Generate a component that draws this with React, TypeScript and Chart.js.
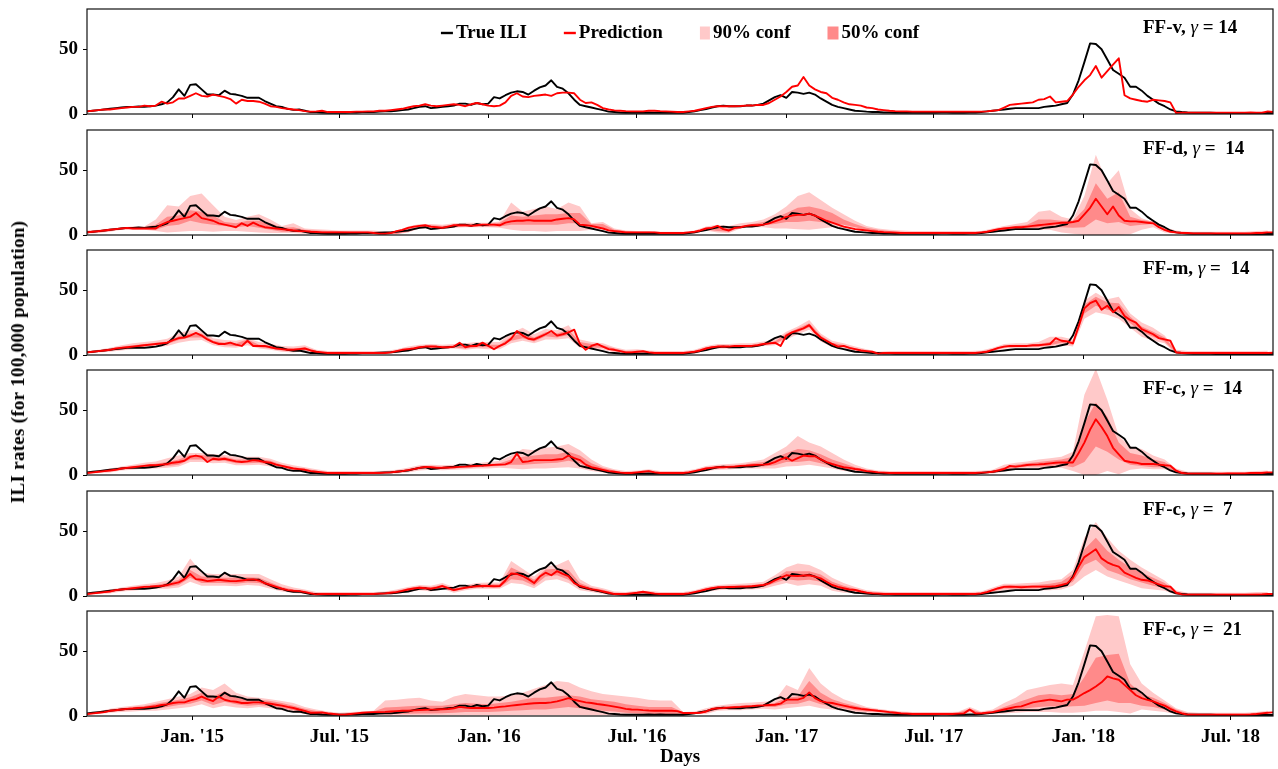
import React, { useEffect, useRef } from "react";
import { Chart, registerables } from "chart.js";

Chart.register(...registerables);

const FONT = "'Liberation Serif', 'Times New Roman', serif";
const FONT_SIZE = 19;

// x axis in days relative to 2015-01-01
const X_MIN = -129.4;
const X_MAX = 1329.3;
const FIRST_SAMPLE_DAY = -129.4;
const SAMPLE_STEP_DAYS = 7.05;
const BAND_STRIDE = 2; // bands sampled every 2 weeks

const TICK_DAYS = [0, 181, 365, 547, 731, 912, 1096, 1277];
const TICK_LABELS = ["Jan. '15", "Jul. '15", "Jan. '16", "Jul. '16", "Jan. '17", "Jul. '17", "Jan. '18", "Jul. '18"];
const Y_MAX = 81;
const Y_TICKS = [0, 50];

const LEGEND_LABELS = ["True ILI", "Prediction", "90% conf", "50% conf"];
const PANEL_NAMES = ["FF-v, ", "FF-d, ", "FF-m, ", "FF-c, ", "FF-c, ", "FF-c, "];
const PANEL_GAMMAS = [" = 14", " =  14", " =  14", " =  14", " =  7", " =  21"];

const TRUE_ILI = [
  2.0, 2.5, 3.0, 3.5, 4.0, 4.5, 5.0, 5.5, 5.5, 5.8,
  5.5, 6.0, 6.5, 7.5, 9.0, 13, 19, 14, 22.5, 23,
  19, 15, 15, 14.5, 18, 15.5, 15, 14, 12.5, 12.5,
  12.5, 10, 8, 6, 5.5, 4, 3.2, 3.5, 2.5, 1.5,
  1.5, 1.2, 1.0, 1.0, 1.0, 1.0, 1.2, 1.2, 1.5, 1.5,
  1.5, 1.8, 2.0, 2.0, 2.5, 3.0, 3.5, 4.5, 5.5, 6.0,
  4.5, 5.0, 5.5, 6.0, 6.5, 8.0, 8.0, 7.0, 8.5, 7.5,
  8.0, 13, 12, 14.5, 16.5, 17.5, 17, 15, 18, 20.5,
  22, 26, 21, 19.5, 16, 11, 7, 6, 5, 4,
  3, 1.8, 1.5, 1.2, 1.0, 1.0, 1.0, 1.0, 1.2, 1.0,
  1.2, 1.0, 1.0, 1.0, 1.0, 1.5, 2.0, 3.0, 3.8, 5.0,
  6.0, 6.5, 6.0, 6.0, 6.0, 6.5, 6.5, 7.0, 8.0, 10.5,
  13, 14.5, 12.5, 17, 16.5, 15.5, 16.5, 15, 12, 9.5,
  7.0, 5.5, 4.5, 3.5, 2.5, 2.2, 1.8, 1.5, 1.5, 1.2,
  1.2, 1.0, 1.0, 1.0, 1.0, 1.0, 1.0, 1.0, 1.0, 1.2,
  1.2, 1.0, 1.0, 1.0, 1.2, 1.2, 1.5, 2.0, 2.5, 3.0,
  3.5, 4.0, 4.5, 4.5, 4.5, 4.5, 4.5, 5.5, 6.0, 6.5,
  7.5, 8.5, 15, 26, 40, 54.5, 54, 50, 42, 34,
  31, 28, 21, 21, 18, 14, 11, 8, 6, 3.5,
  2, 1.5, 1.2, 1.0, 1.0, 1.0, 1.0, 0.8, 0.8, 0.8,
  0.8, 0.8, 0.8, 0.8, 0.8, 0.8, 0.8, 0.8,
];

const PRED_FFV = [
  2, 2.5, 3, 3.5, 3.5, 4, 4.5, 5, 5.5, 5.5,
  6.5, 6, 6.5, 9.5, 8, 9, 12, 12, 14, 16,
  14, 13.5, 15, 14, 13, 11.5, 8, 11, 10, 10,
  9.5, 8, 6, 5.5, 4.5, 4, 3.5, 3, 2.2, 1.8,
  2, 2.5, 1.5, 1.5, 1.5, 1.5, 1.5, 1.8, 1.8, 2,
  2, 2.5, 2.5, 3, 3.5, 4, 5, 6, 6.5, 7.5,
  6.5, 6, 6.5, 7, 7.5, 7, 6, 7.5, 8.5, 7.5,
  6.5, 6, 6.5, 9, 14, 16, 13.5, 13, 14, 14.5,
  15, 14, 16, 16.5, 16.5, 16, 11, 8.5, 9, 7,
  4.5, 3.5, 2.8, 2.5, 2.2, 2, 2, 2, 2.5, 2.5,
  2.2, 2, 1.8, 1.5, 1.5, 2, 2.5, 3.5, 4.5, 5.5,
  6, 6, 6, 6, 6.2, 6.5, 6.5, 7, 7, 8.5,
  11, 13.5, 17, 21, 22, 28.5, 22, 19, 17, 16,
  12.5, 11, 9, 7.5, 7, 6.5, 5, 4.5, 3.5, 3,
  2.5, 2.2, 2, 2, 1.8, 1.8, 1.8, 1.8, 1.8, 1.8,
  1.8, 1.8, 1.8, 1.8, 1.8, 1.8, 1.8, 2, 2.5, 3,
  5, 7, 7.5, 8, 8.5, 9, 11, 11.5, 13.5, 9,
  9.5, 10, 15, 21, 26, 30, 37, 28, 33, 38,
  43, 14.5, 12, 11, 10, 9.5, 11, 10.5, 10, 9,
  0.8, 1, 1, 1, 1, 1, 1, 1, 1, 1,
  1, 1, 1, 1.2, 1, 1, 2, 1.5,
];

const PRED_FFD = [
  2, 2.5, 3, 3.5, 4, 4.5, 5, 5.5, 5, 5,
  5, 5, 5, 8, 10, 11, 12, 13, 14, 17,
  13, 12, 11, 9, 8, 7, 6, 9, 7, 9.5,
  7.5, 6, 5.5, 5, 4.5, 4, 3.5, 3, 3, 2.5,
  2.3, 2, 2, 2, 2, 2, 2, 2, 2, 2,
  1.5, 1, 1, 1.5, 3, 4, 5.5, 6.5, 7, 7.5,
  6.5, 6, 5.5, 6.5, 7.5, 7.5, 7.5, 7, 7.5, 8,
  8, 8, 7.5, 9.5, 10.5, 11, 11, 11.5, 11, 11,
  11, 11, 12, 12.5, 13, 12, 8, 7.5, 7, 6,
  5, 3.5, 3, 2.5, 2, 2, 2, 2, 2, 2,
  1.5, 1.5, 1.5, 1.5, 1.5, 2, 2.5, 3.5, 5, 5.5,
  7, 4.5, 3.5, 5.5, 6, 7, 7.5, 7.5, 8, 9,
  10.5, 12, 14, 15, 15.5, 15.5, 16.5, 15, 13, 11,
  9.5, 8, 6.5, 5.5, 4.5, 4, 3.5, 3, 2.5, 2.2,
  2, 1.8, 1.5, 1.5, 1.5, 1.5, 1.5, 1.5, 1.5, 1.5,
  1.5, 1.5, 1.5, 1.5, 1.5, 1.5, 2, 2.5, 3.5, 4.5,
  5, 5.5, 6, 6, 6.5, 7, 7.5, 8, 8.5, 9,
  9.5, 9.5, 10, 11, 16, 21, 28, 22, 16, 22,
  15, 11, 10.5, 10.5, 10, 9.5, 9, 6, 4, 2.5,
  2, 1.5, 1.5, 1.2, 1.2, 1.2, 1.2, 1.2, 1.2, 1.2,
  1.2, 1.2, 1.2, 1.2, 1.5, 1.5, 2, 2,
];
const FFD_HI90 = [
  3.5, 4, 5, 6, 6.5, 6.5, 12, 23, 22, 30,
  32, 23, 14, 11.5, 14, 16, 12, 7, 9, 5,
  4.5, 4, 3.5, 3.5, 3.5, 3.5, 2.5, 3, 6.5, 8.5,
  8.5, 8, 9, 9.5, 9.5, 9.5, 10.5, 25, 18, 20,
  22, 20, 25, 22, 9, 10, 5, 3.5, 3, 3,
  2.5, 2.5, 2.5, 3.5, 6.5, 8, 7, 9, 10, 12,
  16, 22, 30, 33, 27, 21, 16, 11, 7, 5,
  4, 3.5, 3, 3, 3, 3, 3, 3, 3, 5,
  7, 8.5, 10, 18, 19, 14, 12, 30, 62, 40,
  50, 20, 13, 10, 6, 3.5, 2.5, 2.5, 2.5, 2.5,
  2.5, 2.5, 3, 3.5,
];
const FFD_HI50 = [
  3, 3.5, 4.5, 5.5, 6, 6, 8, 14, 15, 19,
  18, 15, 10, 9, 11, 11, 9, 5.5, 6, 4,
  3.5, 3, 3, 2.5, 2.5, 2.5, 2, 2, 5, 7.5,
  7.5, 7, 8, 8.5, 8.5, 8.5, 9.5, 15, 14, 15,
  16, 16, 17, 17, 8.5, 8.5, 4, 3, 2.5, 2.5,
  2, 2, 2, 2.5, 5.5, 7, 5, 7, 8.5, 10,
  13, 17, 21, 22, 20, 17, 12, 8.5, 5.5, 4,
  3, 2.5, 2, 2, 2, 2, 2, 2, 2, 4,
  6, 7, 8, 12, 12, 11, 11, 20, 40, 28,
  33, 14, 11.5, 10.5, 5, 2.5, 1.8, 1.8, 1.8, 1.8,
  1.8, 1.8, 2.2, 2.5,
];
const FFD_LO50 = [
  1.5, 2, 3, 4.5, 4.5, 4.5, 4, 7, 8, 11,
  9, 8, 7, 6, 7, 5.5, 4, 2.5, 2.5, 1.8,
  1.5, 1.5, 1.5, 1.5, 1.5, 1.5, 0.8, 0.8, 2.5, 5.5,
  5.5, 5, 6, 6.5, 6.5, 6.5, 6.5, 8, 8, 8,
  8, 8, 9, 9, 6, 5.5, 2.5, 2, 1.5, 1.5,
  1, 1, 1, 1.5, 4, 3, 2.5, 6, 7, 7.5,
  8.5, 10, 10, 11, 10, 9, 8, 6, 4, 2.5,
  1.5, 1, 1, 1, 1, 1, 1, 1, 1, 2.5,
  4, 4.5, 5, 5.5, 6, 6, 5.5, 6, 12, 9,
  10, 7, 8, 8.5, 3, 1.5, 0.8, 0.8, 0.8, 0.8,
  0.8, 0.8, 1, 1.5,
];
const FFD_LO90 = [
  1, 1.5, 2.5, 4, 4, 4, 3, 2, 2.5, 3,
  3, 2.5, 3, 3, 2.5, 2, 1.5, 1.5, 1.5, 1,
  1, 1, 1, 1, 1, 1, 0.5, 0.5, 2, 5,
  5, 4.5, 5.5, 6, 6, 6, 5.5, 4, 3, 3,
  2.5, 3, 3, 3, 4, 4.5, 2, 1.5, 1, 1,
  0.5, 0.5, 0.5, 1, 3.5, 2, 1.5, 5, 6, 6,
  5, 5, 4.5, 4, 5, 6, 5.5, 4.5, 3, 2,
  1, 0.8, 0.8, 0.8, 0.8, 0.8, 0.8, 0.8, 0.8, 2,
  3.5, 4, 4.5, 4, 4, 2, 1, 0, 0, 0,
  0, 0.5, 4, 6, 2, 1, 0.5, 0.5, 0.5, 0.5,
  0.5, 0.5, 0.8, 1,
];

const PRED_FFM = [
  2, 2.5, 3, 3.5, 4, 5, 5.5, 6, 6.5, 7,
  7.5, 8, 8.5, 9, 9.5, 11.5, 13, 13.5, 15, 17,
  15, 12, 10, 8.5, 8.5, 9.5, 8, 7, 11, 7,
  7, 7, 6, 5, 4.5, 4, 4, 4.5, 5, 3.5,
  2.5, 2, 1.5, 1.5, 1.5, 1.5, 1.5, 1.5, 1.5, 1.5,
  1.5, 1.5, 1.5, 2, 3, 4, 4.5, 5, 6, 6.5,
  6.5, 6.5, 6, 6, 6.5, 9.5, 6, 7, 7, 9.5,
  7, 4.5, 7, 9, 12.5, 18.5, 15, 12.5, 12, 14,
  16, 18.5, 15, 16, 17.5, 19.5, 8.5, 4, 7, 8.5,
  6.5, 4.5, 4, 3, 2, 2, 2.5, 3, 2, 1.5,
  1.5, 1.5, 1.5, 1.5, 1.5, 2, 2.5, 3.5, 5, 6,
  6.5, 6.5, 6.5, 7, 7, 7, 7, 7.5, 8.5, 9,
  9.5, 7, 15, 17.5, 19, 20.5, 23, 17.5, 13.5, 11,
  8.5, 6.5, 7, 5.5, 4.5, 3.5, 3, 2.5, 1, 1.5,
  1.5, 1.5, 1.5, 1.5, 1.5, 1.5, 1.5, 1.5, 1.5, 1.5,
  1.5, 1.5, 1.5, 1.5, 1.5, 1.5, 2, 2.5, 4, 5.5,
  6.5, 7, 7, 7, 7, 7.5, 7.5, 8, 8.5, 13,
  11, 10.5, 9, 22, 36, 40, 42, 35, 38, 33,
  37, 30, 27, 25, 20, 18, 16, 13, 12, 11,
  2, 1.5, 1.5, 1.5, 1.5, 1.5, 1.5, 1.5, 1.5, 1.5,
  1.5, 1.5, 1.5, 1.5, 1.5, 1.5, 1.5, 1.8,
];
const FFM_HI90 = [
  3, 4, 5.5, 7.5, 9, 10, 11, 12.5, 17, 19,
  19, 13, 11.5, 11, 13, 10, 8.5, 7, 6.5, 7.5,
  4, 3, 3, 3, 3, 3, 3, 4.5, 6.5, 8,
  8.5, 8, 8.5, 9, 10, 10, 10, 17, 21, 16,
  20, 19, 23, 12, 10, 9, 6, 4, 4.5, 3.5,
  3, 3, 3, 4, 7, 8.5, 8.5, 9, 9, 10.5,
  12, 18, 22, 27, 16.5, 11, 9, 6.5, 4.5, 2.5,
  3, 3, 3, 3, 3, 3, 3, 3, 3.5, 5.5,
  8.5, 9, 9, 10, 14, 14, 12, 42, 48, 43,
  45, 32, 25, 21, 15, 4, 3, 3, 3, 3,
  3, 3, 3, 3.3,
];
const FFM_HI50 = [
  2.5, 3.5, 4.5, 6.5, 7.5, 8.5, 9.5, 10.5, 14.5, 16.5,
  16.5, 11, 9.5, 9, 12, 8, 7, 5.5, 5, 6,
  3.2, 2.2, 2.2, 2.2, 2.2, 2.2, 2.2, 3.7, 5.3, 6.8,
  7.3, 6.8, 7.3, 7, 8, 8, 8, 14, 17, 13.5,
  17.5, 16.5, 19.5, 10, 8.5, 7.5, 5, 3, 3.3, 2.7,
  2.2, 2.2, 2.2, 3.2, 5.8, 7.3, 7.3, 7.8, 7.8, 9.3,
  10.5, 16.5, 20.5, 24.5, 15, 9.5, 7.8, 5.3, 3.7, 1.7,
  2.2, 2.2, 2.2, 2.2, 2.2, 2.2, 2.2, 2.2, 2.7, 4.7,
  7.3, 7.8, 7.8, 8.5, 10, 12, 10, 39, 45, 40.5,
  40, 29.5, 22, 18, 13.5, 3, 2.2, 2.2, 2.2, 2.2,
  2.2, 2.2, 2.2, 2.4,
];
const FFM_LO50 = [
  1.5, 2.5, 3.5, 4.5, 5.5, 6.5, 7.5, 8.5, 11.5, 13.5,
  13.5, 9, 7.5, 7, 9.5, 6, 5, 3.5, 3, 4,
  1.8, 1, 1, 1, 1, 1, 1, 2.3, 3.7, 5.2,
  5.7, 5.2, 5.7, 5, 6, 6, 6, 11, 13, 10.5,
  14.5, 13.5, 15.5, 7, 5.5, 5.5, 3, 1.3, 1.8, 1.3,
  1, 1, 1, 1.8, 4.2, 5.7, 5.7, 6.2, 6.2, 7.7,
  8.5, 13.5, 17.5, 21.5, 12, 7.5, 6.2, 3.7, 2.3, 0.5,
  1, 1, 1, 1, 1, 1, 1, 1, 1.3, 3.3,
  5.7, 6.2, 6.2, 6.5, 7.5, 9.5, 8, 32, 38, 35,
  33, 24.5, 18, 14, 10.5, 1.3, 1, 1, 1, 1,
  1, 1, 1, 1.2,
];
const FFM_LO90 = [
  1, 2, 2.5, 3.5, 4.5, 5.5, 6, 7, 9.5, 11,
  11.5, 7.5, 6, 5.5, 7.5, 5, 4, 2.5, 2, 3,
  1, 0.5, 0.5, 0.5, 0.5, 0.5, 0.5, 1.5, 3, 4.5,
  5, 4.5, 5, 4, 5, 4.5, 4.5, 9, 11, 9,
  12, 12, 13, 5.5, 4.5, 4, 2, 0.8, 1, 0.8,
  0.5, 0.5, 0.5, 1, 3.5, 5, 5, 5.5, 5.5, 7,
  7.5, 12, 16, 19.5, 10.5, 6, 5, 3, 1.5, 0.2,
  0.5, 0.5, 0.5, 0.5, 0.5, 0.5, 0.5, 0.5, 0.8, 2.5,
  5, 5.5, 5.5, 5.5, 6, 8, 6.5, 28, 33, 31,
  28, 21, 14, 11, 9, 0.8, 0.5, 0.5, 0.5, 0.5,
  0.5, 0.5, 0.5, 0.6,
];

const PRED_FFC14 = [
  1.5, 2, 2.5, 3, 3.5, 4, 5, 5.5, 6, 6.5,
  7, 7.5, 7.5, 8, 8.5, 9.5, 10, 11, 14, 15,
  14, 10, 12.5, 12, 12.5, 11.5, 10.5, 10, 10.5, 11.5,
  11, 10, 9.5, 8, 7, 6, 5, 4.5, 4, 3,
  2.5, 2, 1.5, 1.5, 1.5, 1.5, 1.5, 1.5, 1.5, 1.5,
  1.5, 1.5, 1.8, 2, 2.5, 3, 3.8, 4.5, 5.5, 6.3,
  6, 5.5, 5.6, 5.8, 6, 6.3, 6.5, 6.8, 7, 7.2,
  7.5, 7.8, 8, 8.2, 10, 16.5, 10, 10.5, 11.5, 11.5,
  11.5, 11.5, 12, 12.3, 15, 13, 11.5, 8, 6, 5,
  4, 3, 2.5, 1.8, 1.5, 1.5, 2, 2.5, 3, 2,
  1.5, 1.5, 1.5, 1.5, 1.5, 2, 3, 4, 5, 5.5,
  6, 6, 6.3, 6.5, 7, 7.2, 7.5, 7.8, 8, 8.5,
  10, 12, 13.5, 11, 13, 15, 14.5, 14.5, 12, 10,
  8.5, 7.2, 6, 5.5, 4.6, 4, 3, 2.6, 2, 1.8,
  1.5, 1.5, 1.5, 1.5, 1.5, 1.5, 1.5, 1.5, 1.5, 1.5,
  1.5, 1.5, 1.5, 1.5, 1.5, 1.5, 1.8, 2, 2.5, 3.5,
  4.6, 7, 6.5, 7, 7.7, 8, 8.2, 8.5, 9, 9.5,
  9.7, 9.7, 9.7, 17, 25, 35, 43, 37, 30, 21,
  16, 11, 10, 9.5, 8.5, 8.5, 8.5, 8, 7.5, 7.2,
  3.3, 1.5, 1, 1, 1, 1, 1, 1, 1, 1.2,
  1.2, 1.2, 1.2, 1.5, 1.5, 1.5, 2, 2,
];
const FFC14_HI90 = [
  2.5, 3.5, 5, 6.5, 8, 9.5, 10.5, 13, 15, 17,
  17, 16, 15.5, 14, 14, 14, 12.5, 9.5, 7.5, 6,
  4.5, 3, 3, 3, 3, 3, 3.3, 4, 5.5, 7.5,
  8, 7.5, 8, 8.5, 9, 10, 11, 15, 20, 19,
  21, 22, 24, 19, 12, 7, 4.5, 3, 3.5, 4.5,
  3, 3, 3, 4.5, 7, 8, 8.5, 9, 10.5, 12,
  17, 22, 30, 25, 22, 17, 12, 8, 5, 3.5,
  3, 3, 3, 3, 3, 3, 3, 3, 3.3, 4,
  8, 9.5, 10.5, 12, 13, 14, 18, 62, 82, 58,
  30, 22, 20, 15, 12, 5, 2.5, 2.5, 2.5, 2.5,
  2.5, 2.5, 3, 3.5,
];
const FFC14_HI50 = [
  2, 3, 4.3, 5.8, 7, 8, 8.7, 10, 12, 15.5,
  15.5, 14, 14, 12, 12, 12.5, 11, 8, 6, 5,
  3.3, 2.2, 2.2, 2.2, 2.2, 2.2, 2.5, 3.2, 4.5, 6.5,
  7, 6.5, 7, 7.3, 8, 8.5, 9, 12, 14, 15,
  16, 16, 18, 15, 9, 5.5, 3.5, 2.2, 2.7, 3.7,
  2.2, 2.2, 2.2, 3.7, 6, 7, 7.3, 8, 9, 10,
  13, 17, 20, 19, 16, 12, 9, 6, 4, 2.7,
  2.2, 2.2, 2.2, 2.2, 2.2, 2.2, 2.2, 2.2, 2.5, 3.2,
  6, 8, 9, 10, 11, 12, 14, 40, 56, 45,
  25, 17, 15, 12, 10, 4, 1.8, 1.8, 1.8, 1.8,
  1.8, 1.8, 2.2, 2.7,
];
const FFC14_LO50 = [
  1, 2, 2.8, 4.2, 5, 6, 6.3, 7, 8, 12,
  12, 11, 11, 9, 9, 9.5, 8, 6, 4, 3,
  1.7, 1, 1, 1, 1, 1, 1.2, 1.8, 3, 4.5,
  5, 4.7, 5, 5.7, 6, 6.5, 7, 8, 8, 8.5,
  9, 9.5, 11, 9, 4.5, 3, 1.7, 1, 1.3, 2.3,
  1, 1, 1, 2.3, 4, 5, 5.3, 6, 6.5, 6.5,
  7.5, 10, 10, 11, 9, 6.5, 4.5, 3.5, 2, 1.3,
  1, 1, 1, 1, 1, 1, 1, 1, 1.2, 1.8,
  3.5, 5.5, 6.5, 6.5, 7, 7.5, 6, 10, 22, 18,
  12, 8, 7, 6, 6, 2.5, 0.8, 0.8, 0.8, 0.8,
  0.8, 0.8, 1, 1.3,
];
const FFC14_LO90 = [
  0.5, 1.5, 2, 3.5, 4, 5, 5, 5.5, 6.5, 10,
  10, 9, 9.5, 7.5, 7.5, 8, 6.5, 5, 3, 2.3,
  1, 0.5, 0.5, 0.5, 0.5, 0.5, 0.8, 1.2, 2, 3.5,
  4, 3.7, 4, 4.5, 5, 5, 5.5, 5, 4.5, 5,
  5, 5.5, 6, 5, 3, 2, 1, 0.5, 0.8, 1.5,
  0.5, 0.5, 0.5, 1.5, 3, 4, 4.2, 5, 5, 5,
  5, 6.5, 7, 8, 6.5, 5, 3, 2.5, 1.3, 0.8,
  0.5, 0.5, 0.5, 0.5, 0.5, 0.5, 0.5, 0.5, 0.8, 1.2,
  2.5, 4.5, 5.5, 5, 5.5, 5.5, 3, 0, 0, 3,
  0.5, 4, 5, 4.5, 4.5, 1.5, 0.3, 0.3, 0.3, 0.3,
  0.3, 0.3, 0.5, 0.8,
];

const PRED_FFC7 = [
  1.5, 2, 2.5, 3, 3.5, 4.5, 5, 5.5, 6, 6.5,
  7, 7.2, 7.5, 7.7, 8.5, 9.5, 10.5, 13, 17, 13,
  12.5, 11.5, 12, 12.5, 12, 11.5, 11.5, 12, 12.5, 12.8,
  12, 10, 8.5, 7, 5.6, 4.5, 4, 3.8, 3, 2,
  1.3, 1.5, 1.5, 1.5, 1.5, 1.5, 1.5, 1.5, 1.5, 1.5,
  1.5, 1.8, 2, 2.5, 3, 4, 5, 5.8, 6.4, 6,
  5.6, 6.5, 7.7, 6, 4.6, 5.5, 6.4, 7, 7.5, 7.7,
  7.7, 7.5, 7.7, 12, 17.4, 17, 15.4, 13, 10, 15,
  18, 16, 19.2, 17, 15.4, 10, 7.7, 6.5, 5.1, 4.5,
  3.5, 2.5, 1.5, 1.5, 1.5, 2, 2.5, 3.3, 2.5, 1.8,
  1.5, 1.5, 1.5, 1.5, 1.5, 2, 3, 4, 5.1, 6,
  6.7, 6.7, 7, 7, 7.2, 7.2, 7.5, 8, 8.5, 9.7,
  12, 14, 16, 15.5, 15.4, 15.8, 16, 15, 13.6, 11,
  8.5, 7, 6, 5, 4.6, 3.5, 2.6, 2, 1.8, 1.5,
  1.5, 1.5, 1.5, 1.5, 1.5, 1.5, 1.5, 1.5, 1.5, 1.5,
  1.5, 1.5, 1.5, 1.5, 1.5, 1.5, 2, 3, 4.5, 6,
  7, 7.2, 7, 6.8, 7, 7.2, 7.2, 7.2, 7.2, 7.5,
  8.5, 9.7, 14, 22.6, 30, 33, 36, 29, 26, 24,
  22.6, 18, 16, 14, 12.5, 12, 10.5, 9, 7.5, 7.2,
  2.5, 1.2, 1, 1, 1, 1, 1, 1, 1, 1,
  1, 1, 1, 1, 1, 1.2, 1.5, 1.5,
];
const FFC7_HI90 = [
  2.5, 3.5, 5, 6.5, 8, 9, 10, 12, 15, 29,
  18, 17, 17, 17, 17, 17, 13, 9, 6.5, 5,
  3, 3, 3, 3, 3, 3, 3.5, 5, 7, 8.5,
  8, 10, 7, 8.5, 10, 10.5, 10.5, 27, 21, 15,
  23, 24, 28, 13, 8, 6, 3.5, 3, 4, 4,
  3, 3, 3, 4.5, 7, 8.5, 9, 9.5, 10, 11,
  16, 22, 25, 24, 20, 14, 10, 7, 4.5, 3.5,
  3, 3, 3, 3, 3, 3, 3, 3, 3.5, 6.5,
  9.5, 9.5, 10, 10.5, 12, 13, 20, 45, 57, 45,
  35, 28, 22, 17, 12, 4.5, 2.5, 2.5, 2.5, 2.5,
  2.5, 2.5, 3, 3,
];
const FFC7_HI50 = [
  2, 3, 4.2, 5.7, 7, 8, 8.5, 10, 12.5, 20,
  15, 14.5, 14, 14, 14.5, 14, 10.5, 7, 5, 4,
  2.2, 2.2, 2.2, 2.2, 2.2, 2.2, 2.8, 4, 6, 7.5,
  6.8, 8.7, 5.8, 7.5, 8.7, 9, 9, 22, 18, 12.5,
  20.5, 21, 20, 10, 6.5, 4.8, 2.5, 2.2, 3.3, 3.3,
  2.2, 2.2, 2.2, 3.7, 6, 7.5, 8, 8.2, 8.5, 9.5,
  13.5, 19, 19, 19, 16.5, 11, 8, 5.5, 3.5, 2.7,
  2.2, 2.2, 2.2, 2.2, 2.2, 2.2, 2.2, 2.2, 2.7, 5.3,
  8.2, 8.2, 8.3, 8.7, 9.5, 11, 17, 36, 45, 35,
  28, 22, 18, 14, 10, 3.5, 1.8, 1.8, 1.8, 1.8,
  1.8, 1.8, 2.2, 2.2,
];
const FFC7_LO50 = [
  1, 2, 2.8, 4.3, 5, 6, 6.5, 7, 8.5, 14,
  10, 10, 10, 9.5, 10.5, 10, 7, 4.5, 3, 2,
  0.8, 1, 1, 1, 1, 1, 1.3, 2.2, 4, 5.4,
  4.6, 6.7, 3.6, 5.5, 6.5, 6.5, 6.5, 13, 12, 8,
  15, 16, 12.5, 6, 4, 2.5, 1, 1, 1.8, 1.8,
  1, 1, 1, 2.3, 4, 5.5, 6, 6.2, 6.5, 7,
  10, 13, 12, 12.5, 11, 6, 4, 3.5, 1.8, 1.2,
  1, 1, 1, 1, 1, 1, 1, 1, 1.3, 3.7,
  5.8, 5.8, 5.8, 6, 6, 6.5, 11, 24, 28, 20,
  17, 13, 10.5, 8, 6, 1.8, 0.7, 0.7, 0.7, 0.7,
  0.7, 0.7, 1, 1,
];
const FFC7_LO90 = [
  0.5, 1.5, 2, 3.5, 4, 5, 5.5, 5.5, 6.5, 11,
  8, 8, 8, 7.5, 8.5, 8, 5.5, 3.5, 2.3, 1.5,
  0.3, 0.5, 0.5, 0.5, 0.5, 0.5, 0.8, 1.5, 3, 4.5,
  3.5, 5.5, 2.5, 4.5, 5.5, 5.5, 5.5, 10, 9, 6,
  12, 13, 10, 4.5, 3, 1.5, 0.5, 0.5, 1.2, 1.2,
  0.5, 0.5, 0.5, 1.5, 3, 4.5, 5, 5, 5, 5.5,
  8, 10, 8, 9, 8, 4, 2.5, 2.5, 1, 0.7,
  0.5, 0.5, 0.5, 0.5, 0.5, 0.5, 0.5, 0.5, 0.8, 2.5,
  4.5, 4.5, 4.5, 4.5, 4.5, 5, 8, 15, 20, 15,
  12, 9, 6, 5, 4, 1, 0.3, 0.3, 0.3, 0.3,
  0.3, 0.3, 0.5, 0.5,
];

const PRED_FFC21 = [
  1.5, 2, 2.5, 3, 4, 4.4, 5, 5.5, 5.8, 6.2,
  6.5, 7, 7.5, 8.5, 9, 10, 10.5, 10.5, 12, 13,
  15, 13, 11.5, 15, 12.5, 11.5, 11, 10, 10, 10.5,
  10.5, 10, 9.5, 8.7, 8, 7, 6.2, 5, 4, 2.5,
  2.5, 2.8, 2, 1.5, 1, 1, 1.5, 2, 2.5, 2.8,
  3, 3, 3.2, 3.5, 3.8, 4, 4, 4.3, 4.6, 4.8,
  4.9, 5, 5.2, 5.4, 6, 7, 6.5, 6.2, 6.2, 6.2,
  6.2, 6.5, 7, 7.4, 8, 8.5, 9, 9.5, 9.8, 10,
  10, 10.5, 11.3, 12.5, 13.8, 12.5, 11.5, 10.5, 10, 9.3,
  8.7, 8, 7.2, 6.5, 5.5, 5, 4.9, 4.5, 4.2, 4,
  4, 4, 4, 3.8, 2.3, 2.3, 2.3, 2.5, 3.5, 5.4,
  6, 6.2, 6.5, 6.8, 7, 7.3, 7.6, 8, 8.2, 8.5,
  8.7, 9.5, 12.6, 12.6, 12.6, 14, 18.2, 13.8, 11.5, 10.5,
  10, 9, 8, 7, 6.2, 5.5, 5, 4.5, 4, 3.6,
  3, 2.5, 2, 1.8, 1.5, 1.5, 1.5, 1.5, 1.5, 1.5,
  1.5, 1.5, 1.8, 2, 5, 2, 2, 2.5, 3, 4,
  5, 6, 7, 7.4, 9, 10.5, 11.3, 12, 12.6, 12,
  11.3, 12.6, 12.6, 15, 17.7, 20, 22.8, 26, 30.5, 29,
  28, 24, 20, 16, 13.8, 12.5, 11.3, 9.5, 8, 5.5,
  3.6, 2, 1, 1, 1, 1, 1, 1, 1, 1,
  1, 1, 1, 1.2, 1.5, 2, 2.5, 2.8,
];
const FFC21_HI90 = [
  2.5, 3.5, 5.5, 7, 8, 9, 11, 13, 15, 17,
  22, 20, 25, 18, 15, 14, 13, 11.5, 10, 7,
  5, 3.5, 2.5, 3, 3.5, 4, 12, 12.5, 13.5, 14,
  12, 11, 15, 17, 16, 15, 15, 16, 18, 21,
  24, 27, 26, 22, 19, 17, 16, 15, 14, 12.5,
  12, 12, 3, 3.5, 6, 8, 9, 10, 10.5, 11,
  12, 24, 20, 37, 25, 18, 13, 10, 7, 5.5,
  4.5, 3.5, 3, 3, 3, 3, 3.3, 7, 3.5, 5,
  10, 14, 20, 22, 24, 25, 24, 50, 77, 78,
  77, 40, 25, 18, 12, 6, 3, 2.5, 2.5, 2.5,
  2.5, 2.5, 3, 4,
];
const FFC21_HI50 = [
  2, 3, 4.8, 6, 7, 7.8, 9.5, 11, 12.5, 14.5,
  18, 15, 19, 14, 12.5, 12.5, 11.5, 10, 8, 5.5,
  3.8, 2.8, 1.7, 2.2, 3, 3.5, 6.5, 7, 7.5, 8,
  8, 8, 9, 10, 9.5, 9, 10, 11, 12.5, 14,
  14, 15, 16, 15, 13, 12, 11, 9, 8, 7,
  7, 7, 2.8, 2.8, 4.5, 6.8, 7.5, 8, 8.5, 9,
  10, 14, 15, 27, 18, 13, 10, 8, 6, 4.8,
  3.8, 2.8, 2.3, 2.2, 2.2, 2.2, 2.5, 5.5, 2.7, 3.8,
  7, 10, 13, 16, 17, 16, 17, 30, 45, 47,
  48, 25, 17, 14, 10, 5, 2.2, 1.8, 1.8, 1.8,
  1.8, 1.8, 2.2, 3.2,
];
const FFC21_LO50 = [
  1, 2, 3.2, 4, 4.6, 5.2, 5.5, 7, 8.5, 9.5,
  12, 8.5, 11, 9, 8, 8.5, 7.5, 6, 4.5, 2.5,
  1.5, 1.2, 0.5, 0.8, 2, 2.5, 1.5, 1.5, 1.8, 2,
  2, 2.2, 2.5, 3, 3, 3, 3.5, 4, 4.5, 5,
  5, 6, 7, 6, 5, 4, 3.5, 2.5, 2, 1.5,
  1.5, 1.5, 1.8, 1.8, 2.5, 5, 5.5, 6, 6.5, 7,
  7, 9, 9.5, 12, 9, 7.5, 6, 4.5, 3.5, 3.3,
  2.2, 1.2, 0.8, 0.8, 0.8, 0.8, 1, 3.5, 1.3, 2.2,
  3.5, 4.5, 6, 7, 7.5, 7, 7.5, 8, 10, 12,
  10, 10, 8, 7, 5, 2.5, 0.8, 0.7, 0.7, 0.7,
  0.7, 0.7, 1, 1.8,
];
const FFC21_LO90 = [
  0.5, 1.5, 2.5, 3, 3.5, 4, 4, 5, 6, 7,
  9, 6, 8, 6.5, 6, 7, 6, 4.5, 3, 1.5,
  0.8, 0.5, 0.2, 0.3, 1.5, 2, 0.3, 0.3, 0.3, 0.4,
  0.5, 0.5, 0.5, 0.5, 0.5, 0.5, 0.5, 0.5, 0.5, 0.5,
  0.5, 0.5, 0.5, 0.5, 0.5, 0.5, 0.5, 0.5, 0.3, 0.3,
  0.3, 0.3, 1.5, 1.5, 1.5, 4, 4.5, 4.5, 5, 5.5,
  5, 6, 7, 8, 6, 5, 4, 3, 2.5, 2.5,
  1.5, 0.5, 0.3, 0.3, 0.3, 0.3, 0.5, 2.5, 0.8, 1.5,
  2, 2.5, 3, 3, 3, 2.5, 2.5, 3, 4, 4,
  3, 2, 5, 4, 3, 1.5, 0.3, 0.3, 0.3, 0.3,
  0.3, 0.3, 0.5, 1.2,
];

const PANEL_PREDS = [PRED_FFV, PRED_FFD, PRED_FFM, PRED_FFC14, PRED_FFC7, PRED_FFC21];
const PANEL_BANDS: (number[][] | null)[] = [
  null,
  [FFD_HI90, FFD_LO90, FFD_HI50, FFD_LO50],
  [FFM_HI90, FFM_LO90, FFM_HI50, FFM_LO50],
  [FFC14_HI90, FFC14_LO90, FFC14_HI50, FFC14_LO50],
  [FFC7_HI90, FFC7_LO90, FFC7_HI50, FFC7_LO50],
  [FFC21_HI90, FFC21_LO90, FFC21_HI50, FFC21_LO50],
];

// layout (pixels)
const FIG_W = 1278;
const FIG_H = 769;
const PANEL_TOPS = [9, 130, 250, 370, 491, 611];
const PLOT_H = 105;
const AXIS_W = 87;
const RIGHT_PAD = 5;
const TOP_PAD = 2;
const SMALL_X_H = 8;
const LAST_X_H = 53;

const C90 = "#ffc9c9";
const C50 = "#ff8a8a";
const RED = "#ff0000";
const BLACK = "#000000";

const weekPoints = (arr: number[]) =>
  arr.map((v, i) => ({ x: FIRST_SAMPLE_DAY + i * SAMPLE_STEP_DAYS, y: v }));
const bandPoints = (arr: number[]) =>
  arr.map((v, k) => ({ x: FIRST_SAMPLE_DAY + k * BAND_STRIDE * SAMPLE_STEP_DAYS, y: v }));

const framePlugin = {
  id: "frame",
  afterDraw(chart: any) {
    const { ctx, chartArea: a } = chart;
    ctx.save();
    ctx.strokeStyle = "#111";
    ctx.lineWidth = 1.2;
    ctx.strokeRect(a.left, a.top, a.right - a.left, a.bottom - a.top);
    ctx.restore();
  },
};

const panelLabelPlugin = {
  id: "panelLabel",
  afterDraw(chart: any, _args: any, opts: any) {
    if (!opts || !opts.name) return;
    const { ctx, chartArea: a } = chart;
    ctx.save();
    ctx.fillStyle = "#000";
    ctx.textBaseline = "middle";
    ctx.textAlign = "left";
    let x = a.left + 1056;
    const y = a.top + 19;
    ctx.font = `bold ${FONT_SIZE}px ${FONT}`;
    ctx.fillText(opts.name, x, y);
    x += ctx.measureText(opts.name).width;
    ctx.font = `italic ${FONT_SIZE}px ${FONT}`;
    ctx.fillText("γ", x, y);
    x += ctx.measureText("γ").width;
    ctx.font = `bold ${FONT_SIZE}px ${FONT}`;
    ctx.fillText(opts.gamma, x, y);
    ctx.restore();
  },
};

const legendPlugin = {
  id: "iliLegend",
  afterDraw(chart: any, _args: any, opts: any) {
    if (!opts || !opts.show) return;
    const { ctx, chartArea: a } = chart;
    ctx.save();
    ctx.font = `bold ${FONT_SIZE}px ${FONT}`;
    ctx.textBaseline = "middle";
    ctx.textAlign = "left";
    const kinds = ["line", "line", "rect", "rect"];
    const colors = [BLACK, RED, C90, C50];
    const markW = [12, 12, 10, 11];
    const textGap = 3;
    const itemGap = 37;
    const widths = LEGEND_LABELS.map((t) => ctx.measureText(t).width);
    let total = 0;
    widths.forEach((w, i) => (total += markW[i] + textGap + w));
    total += itemGap * (LEGEND_LABELS.length - 1);
    let x = (a.left + a.right) / 2 - total / 2;
    const cy = a.top + 24;
    LEGEND_LABELS.forEach((label, i) => {
      if (kinds[i] === "line") {
        ctx.strokeStyle = colors[i];
        ctx.lineWidth = 2.4;
        ctx.beginPath();
        ctx.moveTo(x, cy);
        ctx.lineTo(x + markW[i], cy);
        ctx.stroke();
      } else {
        ctx.fillStyle = colors[i];
        ctx.fillRect(x, cy - 6.5, markW[i], 13);
      }
      x += markW[i] + textGap;
      ctx.fillStyle = "#000";
      ctx.fillText(label, x, cy);
      x += widths[i] + itemGap;
    });
    ctx.restore();
  },
};

function buildConfig(i: number): any {
  const isLast = i === PANEL_TOPS.length - 1;
  const datasets: any[] = [];
  const bands = PANEL_BANDS[i];
  const lineBase = { pointRadius: 0, tension: 0, borderJoinStyle: "round" };
  if (bands) {
    const [hi90, lo90, hi50, lo50] = bands;
    datasets.push({ ...lineBase, data: bandPoints(hi90), fill: "+1", backgroundColor: C90, borderColor: "rgba(0,0,0,0)", borderWidth: 0, order: 6 });
    datasets.push({ ...lineBase, data: bandPoints(lo90), fill: false, borderColor: "rgba(0,0,0,0)", borderWidth: 0, order: 5 });
    datasets.push({ ...lineBase, data: bandPoints(hi50), fill: "+1", backgroundColor: C50, borderColor: "rgba(0,0,0,0)", borderWidth: 0, order: 4 });
    datasets.push({ ...lineBase, data: bandPoints(lo50), fill: false, borderColor: "rgba(0,0,0,0)", borderWidth: 0, order: 3 });
  }
  datasets.push({ ...lineBase, data: weekPoints(TRUE_ILI), borderColor: BLACK, borderWidth: 1.9, fill: false, order: 2 });
  datasets.push({ ...lineBase, data: weekPoints(PANEL_PREDS[i]), borderColor: RED, borderWidth: 1.9, fill: false, order: 1 });

  const tickFont = { family: FONT, size: FONT_SIZE, weight: "bold" as const };
  return {
    type: "line",
    data: { datasets },
    options: {
      animation: false,
      responsive: false,
      devicePixelRatio: 1,
      events: [],
      layout: { padding: { left: 0, right: RIGHT_PAD, top: TOP_PAD, bottom: 0 } },
      plugins: {
        legend: { display: false },
        tooltip: { enabled: false },
        title: { display: false },
        panelLabel: { name: PANEL_NAMES[i], gamma: PANEL_GAMMAS[i] },
        iliLegend: { show: i === 0 },
      },
      scales: {
        x: {
          type: "linear",
          min: X_MIN,
          max: X_MAX,
          afterBuildTicks: (s: any) => {
            s.ticks = TICK_DAYS.map((v) => ({ value: v }));
          },
          afterFit: (s: any) => {
            s.height = isLast ? LAST_X_H : SMALL_X_H;
            s.paddingLeft = 0;
            s.paddingRight = 0;
          },
          border: { display: false },
          grid: { drawOnChartArea: false, drawTicks: true, tickLength: 4, color: "#000", lineWidth: 1 },
          ticks: {
            display: isLast,
            autoSkip: false,
            maxRotation: 0,
            minRotation: 0,
            padding: 6,
            color: "#000",
            font: tickFont,
            callback: (_v: any, idx: number) => TICK_LABELS[idx],
          },
          title: {
            display: isLast,
            text: "Days",
            color: "#000",
            font: tickFont,
            padding: { top: 0, bottom: 1 },
          },
        },
        y: {
          type: "linear",
          min: 0,
          max: Y_MAX,
          afterBuildTicks: (s: any) => {
            s.ticks = Y_TICKS.map((v) => ({ value: v }));
          },
          afterFit: (s: any) => {
            s.width = AXIS_W;
            s.paddingTop = 0;
            s.paddingBottom = 0;
          },
          border: { display: false },
          grid: { drawOnChartArea: false, drawTicks: true, tickLength: 4, color: "#000", lineWidth: 1 },
          ticks: { padding: 5, color: "#000", font: tickFont, callback: (v: any) => String(v) },
        },
      },
    },
    plugins: [framePlugin, panelLabelPlugin, legendPlugin],
  };
}

export default function App() {
  const refs = useRef<(HTMLCanvasElement | null)[]>([]);

  useEffect(() => {
    const charts: Chart[] = [];
    PANEL_TOPS.forEach((_, i) => {
      const c = refs.current[i];
      if (!c) return;
      charts.push(new Chart(c, buildConfig(i)));
    });
    return () => charts.forEach((ch) => ch.destroy());
  }, []);

  return (
    <div style={{ position: "fixed", left: 0, top: 0, width: FIG_W, height: FIG_H, background: "#fff", overflow: "hidden" }}>
      {PANEL_TOPS.map((top, i) => {
        const isLast = i === PANEL_TOPS.length - 1;
        const h = TOP_PAD + PLOT_H + (isLast ? LAST_X_H : SMALL_X_H);
        return (
          <canvas
            key={i}
            ref={(el) => {
              refs.current[i] = el;
            }}
            width={FIG_W}
            height={h}
            style={{ position: "absolute", left: 0, top: top - TOP_PAD, width: FIG_W, height: h }}
          />
        );
      })}
      <div
        style={{
          position: "absolute",
          left: 18,
          top: 362,
          transform: "translate(-50%, -50%) rotate(-90deg)",
          whiteSpace: "nowrap",
          font: `bold ${FONT_SIZE}px ${FONT}`,
          letterSpacing: "0.3px",
          color: "#000",
        }}
      >
        ILI rates (for 100,000 population)
      </div>
    </div>
  );
}
